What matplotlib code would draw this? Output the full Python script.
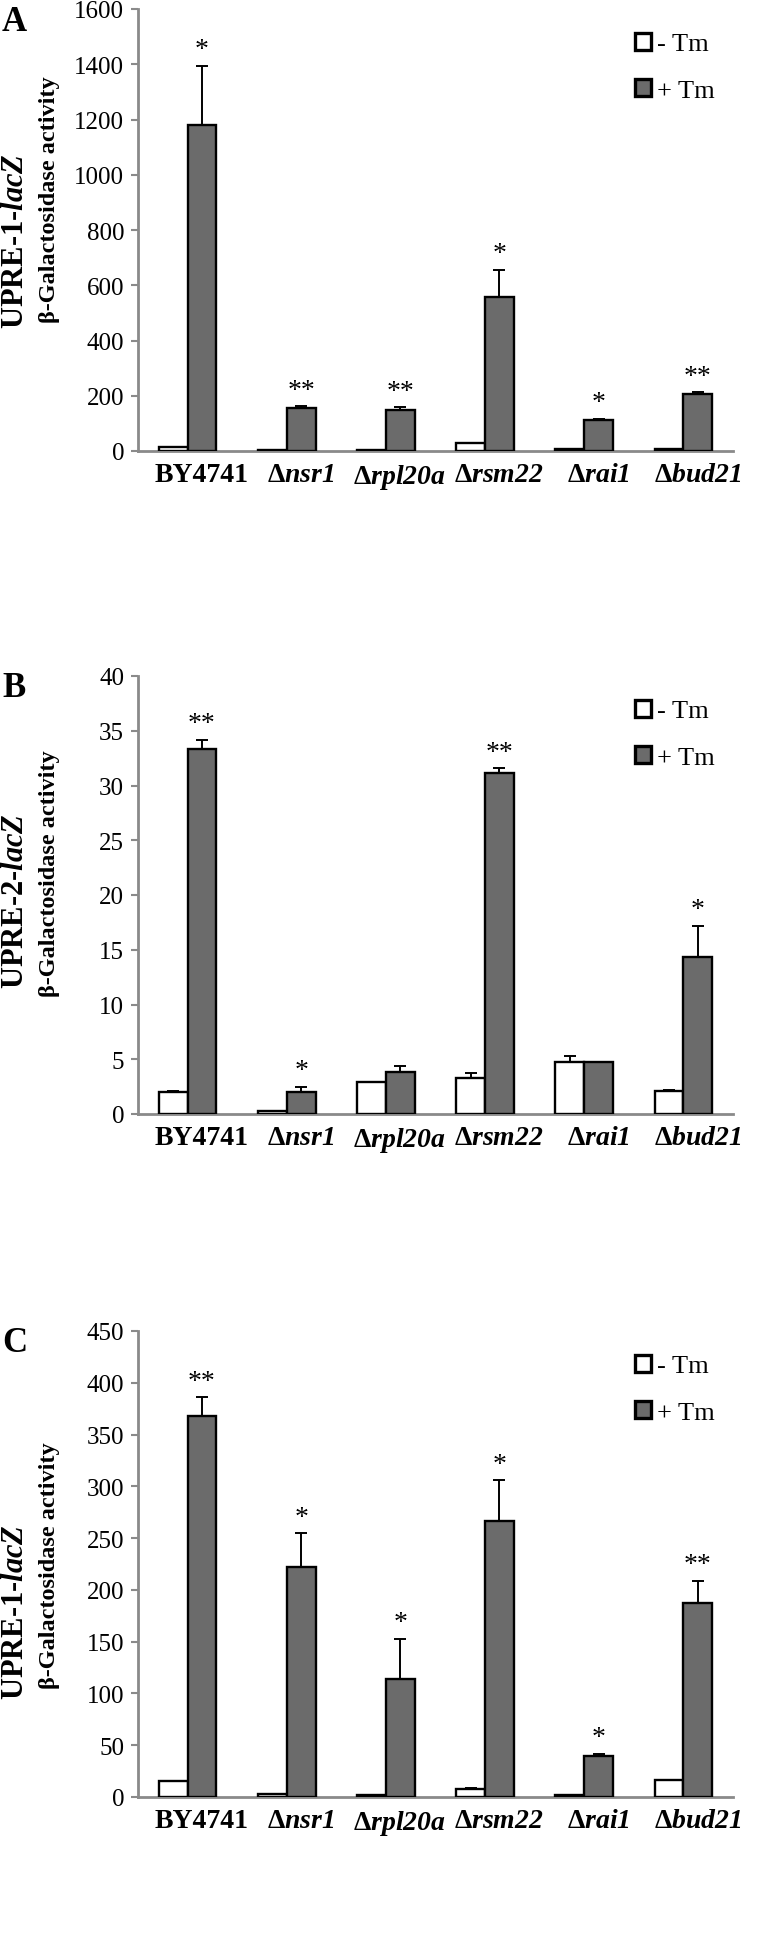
import numpy as np
import matplotlib
matplotlib.use("Agg")
import matplotlib.pyplot as plt

plt.rcParams['font.family'] = ['Liberation Serif', 'DejaVu Serif']
plt.rcParams['mathtext.fontset'] = 'custom'
plt.rcParams['mathtext.rm'] = 'Liberation Serif'
plt.rcParams['mathtext.it'] = 'Liberation Serif:italic'
plt.rcParams['mathtext.bf'] = 'Liberation Serif:bold'
plt.rcParams['mathtext.bfit'] = 'Liberation Serif:italic:bold'

strains = ["BY4741", "nsr1", "rpl20a", "rsm22", "rai1", "bud21"]

# panel A: UPRE-1-lacZ
a_minus = [15, 3, 3, 29, 8, 8]
a_minus_err = [0, 0, 0, 0, 0, 0]
a_plus = [1180, 155, 150, 558, 113, 208]
a_plus_err = [215, 8, 8, 98, 4, 5]
a_stars = ["*", "**", "**", "*", "*", "**"]

# panel B: UPRE-2-lacZ
b_minus = [2.0, 0.3, 2.95, 3.3, 4.75, 2.1]
b_minus_err = [0.1, 0, 0, 0.4, 0.55, 0.1]
b_plus = [33.3, 2.05, 3.85, 31.1, 4.75, 14.35]
b_plus_err = [0.9, 0.45, 0.5, 0.5, 0, 2.85]
b_stars = ["**", "*", "", "**", "", "*"]

# panel C: UPRE-1-lacZ
c_minus = [15.5, 2.5, 2, 8, 2, 16]
c_minus_err = [0, 0, 0, 0.5, 0, 0.5]
c_plus = [368, 222, 114, 267, 40, 187]
c_plus_err = [18, 33, 39, 39, 2, 22]
c_stars = ["**", "*", "*", "*", "*", "**"]

W, H = 760, 1956
fig = plt.figure(figsize=(W / 100, H / 100), dpi=100)

GRAY = "#6b6b6b"
AXC = "#8a8a8a"


def px_axes(top, bottom, left=138, right=733):
    return fig.add_axes([left / W, 1 - bottom / H, (right - left) / W, (bottom - top) / H])


def draw_panel(ax, minus, minus_err, plus, plus_err, stars, ymax, ystep, off):
    x = np.arange(len(strains))
    bw = 0.29
    ax.bar(x - bw / 2, minus, bw, color="white", edgecolor="black", linewidth=1.7,
           yerr=[np.zeros(len(minus)), minus_err], capsize=4,
           error_kw=dict(elinewidth=1.4, capthick=1.4), label="- Tm", zorder=3)
    ax.bar(x + bw / 2, plus, bw, color=GRAY, edgecolor="black", linewidth=1.7,
           yerr=[np.zeros(len(plus)), plus_err], capsize=4,
           error_kw=dict(elinewidth=1.4, capthick=1.4), label="+ Tm", zorder=3)
    for i, s in enumerate(stars):
        if s:
            ax.text(x[i] + bw / 2, plus[i] + plus_err[i] + off, s, ha="center",
                    va="bottom", fontsize=20)
    ax.set_xlim(-0.5, len(strains) - 0.5)
    ax.set_ylim(0, ymax)
    ax.set_yticks(np.arange(0, ymax + ystep / 2, ystep))
    # labels sit a little right of the bar pairs, as in the original
    ax.set_xticks(x + 0.14)
    labels = ["BY4741"] + [r"Δ$\mathbfit{" + s + "}$" for s in strains[1:]]
    ax.set_xticklabels(labels, fontsize=20, fontweight="bold")
    ax.tick_params(axis="x", length=0, pad=8)
    ax.tick_params(axis="y", labelsize=18, length=5, width=1.5, color=AXC, pad=5)
    for sp in ["top", "right"]:
        ax.spines[sp].set_visible(False)
    for sp in ["left", "bottom"]:
        ax.spines[sp].set_color(AXC)
        ax.spines[sp].set_linewidth(2)
    leg = ax.legend(loc="upper right", bbox_to_anchor=(1.01, 1.0), frameon=False,
                    fontsize=19, handlelength=0.6, handleheight=0.6,
                    handletextpad=0.25, labelspacing=0.9)
    for h in leg.legend_handles:
        h.set_linewidth(2.4)


axA = px_axes(10, 452)
draw_panel(axA, a_minus, a_minus_err, a_plus, a_plus_err, a_stars, 1600, 200, 12)
axB = px_axes(677, 1115)
draw_panel(axB, b_minus, b_minus_err, b_plus, b_plus_err, b_stars, 40, 5, 0.3)
axC = px_axes(1332, 1798)
draw_panel(axC, c_minus, c_minus_err, c_plus, c_plus_err, c_stars, 450, 50, 3)

# y labels and panel letters
for letter, top, l1, l1y, l2y in [("A", 6, "UPRE-1-", 241, 200),
                                  ("B", 672, "UPRE-2-", 901, 874),
                                  ("C", 1327, "UPRE-1-", 1612, 1566)]:
    fig.text(2 / W, 1 - top / H, letter, fontsize=25, fontweight="bold",
             ha="left", va="top")
    fig.text(16 / W, 1 - l1y / H, l1 + r"$\mathbfit{lacZ}$", rotation=90,
             fontsize=22, fontweight="bold", ha="center", va="center")
    fig.text(50 / W, 1 - l2y / H, "β-Galactosidase activity", rotation=90,
             fontsize=17.5, fontweight="bold", ha="center", va="center")

fig.savefig("out.png", dpi=100)
